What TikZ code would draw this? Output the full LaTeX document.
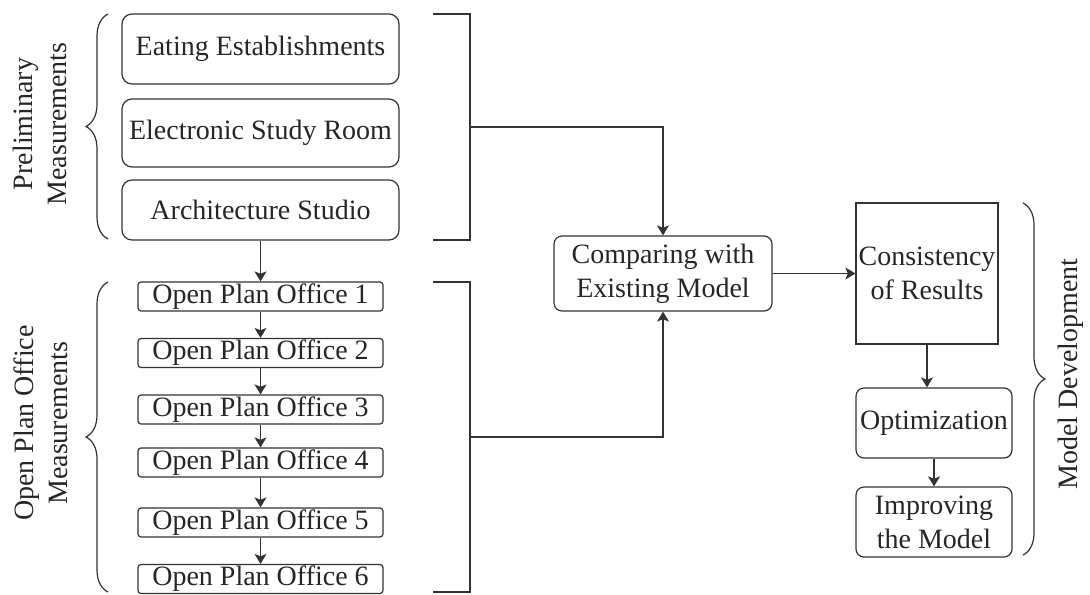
\documentclass[tikz,border=0pt]{standalone}
\usepackage{fontspec}
\setmainfont{Liberation Serif}
\newfontfamily\diagfont{Liberation Serif}
\usepackage{xcolor}
\usepackage{tikz}
\usetikzlibrary{arrows.meta,decorations.pathreplacing}
\definecolor{linegray}{HTML}{333333}
\tikzset{
  flownode/.style = {draw=linegray, align=center, inner sep=0pt, text=black!85,
    font=\diagfont\fontsize{14pt}{17pt}\selectfont, line width=0.6pt},
  sitebox/.style = {flownode, rounded corners=5pt,
    minimum width=138.5pt, minimum height=35pt},% preliminary sites
  officebox/.style = {flownode, rounded corners=1.5pt,
    minimum width=122.5pt, minimum height=14.5pt},% open plan offices
  stepbox/.style = {flownode, rounded corners=4pt},% model steps
  grouplabel/.style = {align=center, text=black!85, rotate=90,
    font=\diagfont\fontsize{14pt}{17pt}\selectfont},
  groupbrace/.style = {draw=linegray, line width=0.6pt,
    decorate, decoration={brace, amplitude=11pt}}
}

\begin{document}
\begin{tikzpicture}[x=0.5pt, y=-0.5pt, ->,
  >={Stealth[length=5pt, width=6pt, inset=1.2pt]}, line width=0.6pt,
  draw=linegray]
\useasboundingbox (0,0) rectangle (1090,594);
% preliminary measurements
\node [sitebox] (eat) at (260.5,49) {Eating Establishments};
\node [sitebox, minimum height=34pt] (esr) at (260.5,133) {Electronic Study Room};
\node [sitebox, minimum height=30pt] (arch) at (260.5,210) {Architecture Studio};
% open plan offices
\node [officebox] (opo1) at (260.5,296.5) {Open Plan Office 1};
\node [officebox] (opo2) at (260.5,353) {Open Plan Office 2};
\node [officebox] (opo3) at (260.5,409.5) {Open Plan Office 3};
\node [officebox] (opo4) at (260.5,462.5) {Open Plan Office 4};
\node [officebox] (opo5) at (260.5,522.5) {Open Plan Office 5};
\node [officebox] (opo6) at (260.5,579) {Open Plan Office 6};
% model
\node [stepbox, minimum width=109pt, minimum height=37.5pt] (comp)
  at (663,273.5) {Comparing with\\Existing Model};
\node [flownode, minimum width=71pt, minimum height=70.5pt] (cons)
  at (927,273.5) {Consistency\\of Results};
\node [stepbox, minimum width=78pt, minimum height=35pt] (opt)
  at (934,423) {Optimization};
\node [stepbox, minimum width=78pt, minimum height=35pt] (imp)
  at (934,522) {Improving\\the Model};
% group labels
\node [grouplabel] (prelab) at (40,124) {Preliminary\\Measurements};
\node [grouplabel] (opolab) at (41,423) {Open Plan Office\\Measurements};
\node [grouplabel] (mdlab) at (1071,374) {Model Development};
% braces
\draw [-, groupbrace] (108,239) -- (108,14);
\draw [-, groupbrace] (108,592) -- (108,282);
\draw [-, groupbrace] (1023,203) -- (1023,555);
% brackets
\coordinate (pb) at (470,127);
\coordinate (ob) at (470,437);
\draw [-] (433,14) -- (470,14) -- (470,240) -- (433,240);
\draw [-] (433,282) -- (470,282) -- (470,592) -- (433,592);
% connectors
\draw (arch) -- (opo1);
\draw (opo1) -- (opo2);
\draw (opo2) -- (opo3);
\draw (opo3) -- (opo4);
\draw (opo4) -- (opo5);
\draw (opo5) -- (opo6);
\draw (pb) -| (comp.north);
\draw (ob) -| (comp.south);
\draw (comp) -- (cons);
\draw (cons.south) -- (cons.south |- opt.north);
\draw [line width=1pt] (opt) -- (imp);
\end{tikzpicture}
\end{document}
